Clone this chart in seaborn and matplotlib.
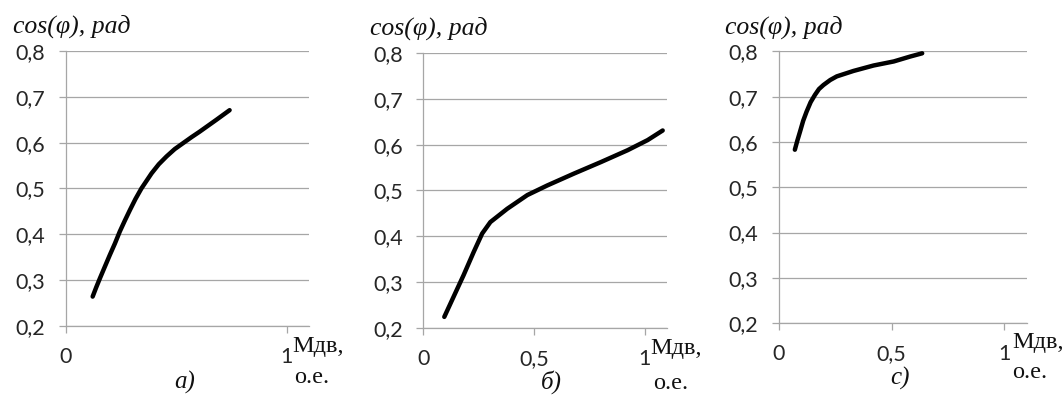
import seaborn as sns
import matplotlib.pyplot as plt
import pandas as pd

# curve points (Мдв in o.e., cos(phi))
x_a = [0.121, 0.137, 0.154, 0.176, 0.199, 0.222, 0.244, 0.267, 0.290, 0.315, 0.342,
       0.388, 0.421, 0.456, 0.493, 0.531, 0.569, 0.606, 0.644, 0.682, 0.742]
y_a = [0.264, 0.284, 0.304, 0.329, 0.355, 0.380, 0.406, 0.430, 0.453, 0.477, 0.500,
       0.533, 0.553, 0.570, 0.586, 0.599, 0.612, 0.624, 0.637, 0.650, 0.671]

x_b = [0.094, 0.136, 0.181, 0.227, 0.265, 0.302, 0.378, 0.469, 0.559, 0.680, 0.801,
       0.922, 1.012, 1.080]
y_b = [0.224, 0.268, 0.315, 0.366, 0.406, 0.431, 0.460, 0.490, 0.511, 0.537, 0.562,
       0.588, 0.610, 0.631]

x_c = [0.071, 0.082, 0.094, 0.108, 0.123, 0.141, 0.160, 0.178, 0.198, 0.228, 0.257,
       0.331, 0.420, 0.510, 0.584, 0.636]
y_c = [0.583, 0.603, 0.623, 0.647, 0.667, 0.688, 0.704, 0.717, 0.726, 0.737, 0.745,
       0.757, 0.769, 0.778, 0.789, 0.796]

y_ticks = [0.2, 0.3, 0.4, 0.5, 0.6, 0.7, 0.8]
y_labels = ["0,2", "0,3", "0,4", "0,5", "0,6", "0,7", "0,8"]
x_ticks_a = [0, 1]
x_labels_a = ["0", "1"]
x_ticks_bc = [0, 0.5, 1]
x_labels_bc = ["0", "0,5", "1"]
panel_names = ["а)", "б)", "с)"]

sns.set_style("white")
plt.rcParams["font.family"] = ["Lato", "DejaVu Sans"]

fig = plt.figure(figsize=(10.64, 3.96), dpi=100)
axes = [
    fig.add_axes([0.062, 0.177, 0.228, 0.694]),
    fig.add_axes([0.398, 0.172, 0.229, 0.694]),
    fig.add_axes([0.732, 0.184, 0.233, 0.686]),
]

panels = [(x_a, y_a, x_ticks_a, x_labels_a),
          (x_b, y_b, x_ticks_bc, x_labels_bc),
          (x_c, y_c, x_ticks_bc, x_labels_bc)]

# label positions in axes fraction
unit_pos = [((0.934, -0.076), (0.942, -0.189)),
            ((0.931, -0.074), (0.944, -0.201)),
            ((0.940, -0.070), (0.940, -0.180))]
name_pos = [(0.49, -0.205), (0.524, -0.198), (0.488, -0.205)]

grid_c = "#a6a6a6"
serif = ["Liberation Serif", "DejaVu Serif"]

for i, (ax, (xs, ys, xt, xl)) in enumerate(zip(axes, panels)):
    df = pd.DataFrame({"x": xs, "y": ys})
    sns.lineplot(data=df, x="x", y="y", sort=False, color="black", lw=3.2,
                 solid_capstyle="round", solid_joinstyle="round", ax=ax)
    ax.set_xlim(0, 1.1)
    ax.set_ylim(0.2, 0.8)
    ax.set_yticks(y_ticks)
    ax.set_yticklabels(y_labels, fontsize=15.5, color="#262626")
    ax.set_xticks(xt)
    ax.set_xticklabels(xl, fontsize=15.5, color="#262626")
    ax.set_xlabel("")
    ax.set_ylabel("")
    ax.grid(axis="y", color=grid_c, lw=0.9)
    ax.set_axisbelow(True)
    for s in ["top", "right"]:
        ax.spines[s].set_visible(False)
    for s in ["left", "bottom"]:
        ax.spines[s].set_color(grid_c)
        ax.spines[s].set_linewidth(0.9)
    ax.tick_params(axis="both", direction="out", length=5, width=0.9,
                   color=grid_c, pad=10, left=True, bottom=True)

    ax.text(-0.218, 1.09, "cos(φ), рад", transform=ax.transAxes, fontsize=18.5,
            family=serif, style="italic", va="center", ha="left", color="#111111")
    (ux, uy), (ox, oy) = unit_pos[i]
    ax.text(ux, uy, "Мдв,", transform=ax.transAxes, fontsize=17.5, family=serif,
            va="center", ha="left", color="#111111")
    ax.text(ox, oy, "о.е.", transform=ax.transAxes, fontsize=17.5, family=serif,
            va="center", ha="left", color="#111111")
    nx, ny = name_pos[i]
    ax.text(nx, ny, panel_names[i], transform=ax.transAxes, fontsize=18,
            family=serif, style="italic", va="center", ha="center", color="#111111")

fig.savefig("out.png", dpi=100)
